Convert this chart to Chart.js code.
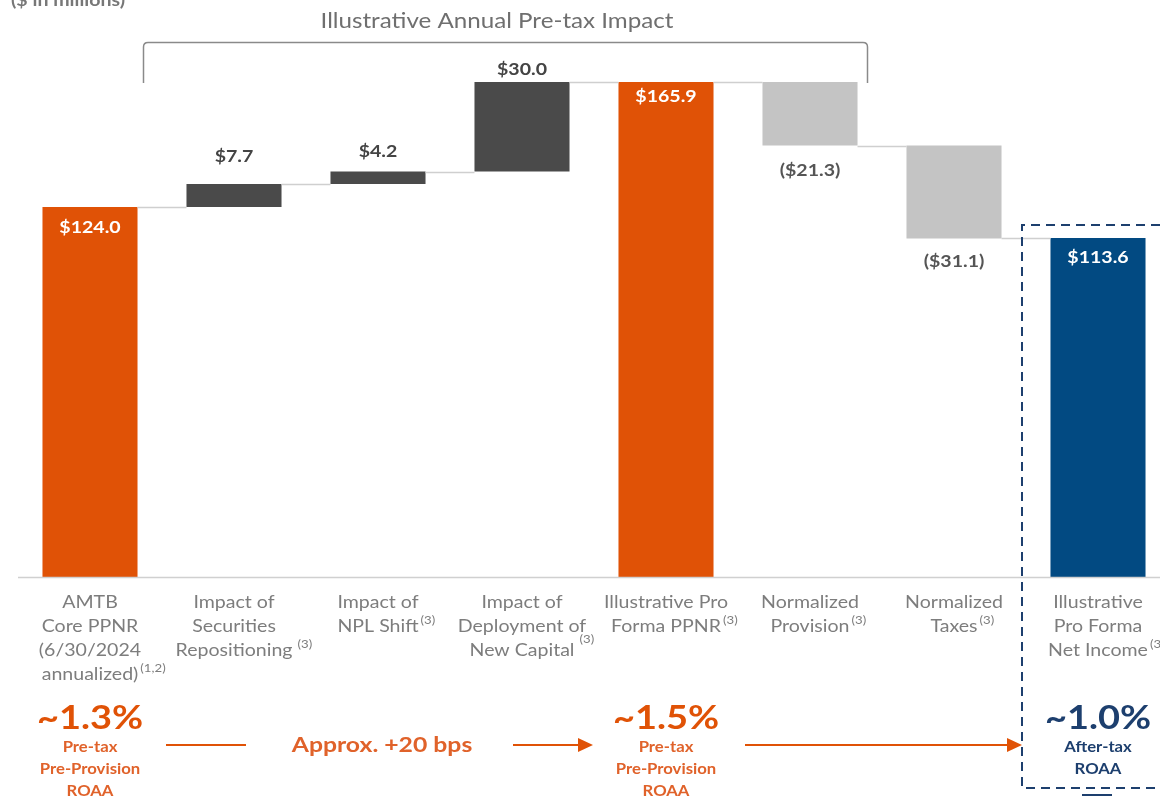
<!DOCTYPE html>
<html>
<head>
<meta charset="utf-8">
<script src="https://cdn.jsdelivr.net/npm/chart.js@4"></script>
<style>
  html, body { margin:0; padding:0; background:#fff; overflow:hidden; }
  #wrap { position:relative; width:1160px; height:796px; overflow:hidden; }
  canvas { display:block; }
</style>
</head>
<body>
<div id="wrap"><canvas id="chart" width="1180" height="796"></canvas></div>
<script>
// waterfall: pre-tax impact bridge
const categories = [
  ['AMTB','Core PPNR','(6/30/2024','annualized)'],
  ['Impact of','Securities','Repositioning'],
  ['Impact of','NPL Shift'],
  ['Impact of','Deployment of','New Capital'],
  ['Illustrative Pro','Forma PPNR'],
  ['Normalized','Provision'],
  ['Normalized','Taxes'],
  ['Illustrative','Pro Forma','Net Income']
];
const footnotes = ['(1,2)','(3)','(3)','(3)','(3)','(3)','(3)','(3)'];
const barValues = [124.0, 7.7, 4.2, 30.0, 165.9, -21.3, -31.1, 113.6];
const isTotal = [true, false, false, false, true, false, false, true];
const barLabels = ['$124.0','$7.7','$4.2','$30.0','$165.9','($21.3)','($31.1)','$113.6'];
const roaaBig = ['~1.3%','~1.5%','~1.0%'];
const roaaSmall = [['Pre-tax','Pre-Provision','ROAA'],['Pre-tax','Pre-Provision','ROAA'],['After-tax','ROAA']];
const roaaBars = [0, 4, 7];

const ORANGE = '#e05206', DARK = '#4a4a4a', LIGHT = '#c4c4c4', NAVY = '#024a82';
const TXT = '#7d7d7d';
const SX = 1.15; // text in the source is a bit wide
const labelGap = [20, 28, 20, 13, 14, 25, 23, 19]; // label distance from bar edge

// build floating ranges
let run = 0;
const ranges = barValues.map((v,i)=>{
  if(isTotal[i]){ run = v; return [0, v]; }
  const r = [run, run+v]; run += v; return r;
});
const colors = barValues.map((v,i)=> isTotal[i] ? (i===7 ? NAVY : ORANGE) : (v>0 ? DARK : LIGHT));

function txt(ctx, s, x, y, align){
  ctx.save();
  ctx.translate(x, y); ctx.scale(SX, 1);
  ctx.textAlign = align || 'center';
  ctx.fillText(s, 0, 0);
  const w = ctx.measureText(s).width * SX;
  ctx.restore();
  return w;
}
function arrow(ctx, x1, x2, y, head){
  ctx.beginPath(); ctx.moveTo(x1,y); ctx.lineTo(head ? x2-12 : x2, y); ctx.stroke();
  if(head){
    ctx.beginPath(); ctx.moveTo(x2,y); ctx.lineTo(x2-15,y-7); ctx.lineTo(x2-15,y+7); ctx.closePath(); ctx.fill();
  }
}

const decor = {
  id:'decor',
  afterDatasetsDraw(chart){
    const {ctx, scales:{y}} = chart;
    const meta = chart.getDatasetMeta(0);
    ctx.save();
    ctx.textBaseline = 'middle';
    // baseline
    const y0 = Math.round(y.getPixelForValue(0)) + 0.5;
    ctx.strokeStyle = '#d0d0d0'; ctx.lineWidth = 1.5;
    ctx.beginPath(); ctx.moveTo(18, y0); ctx.lineTo(1180, y0); ctx.stroke();
    // connectors
    ctx.strokeStyle = '#cfcfcf'; ctx.lineWidth = 1.5;
    for(let i=0;i<meta.data.length-1;i++){
      const b = meta.data[i], n = meta.data[i+1];
      const py = Math.round(y.getPixelForValue(ranges[i][1])) + 0.5;
      ctx.beginPath(); ctx.moveTo(b.x + b.width/2, py); ctx.lineTo(n.x - n.width/2, py); ctx.stroke();
    }
    // value labels
    ctx.font = 'bold 17px Lato';
    meta.data.forEach((b,i)=>{
      const top = y.getPixelForValue(Math.max(...ranges[i]));
      const bot = y.getPixelForValue(Math.min(...ranges[i]));
      if(isTotal[i]){ ctx.fillStyle = '#fff'; txt(ctx, barLabels[i], b.x, top + labelGap[i]); }
      else if(barValues[i] > 0){ ctx.fillStyle = '#444'; txt(ctx, barLabels[i], b.x, top - labelGap[i]); }
      else { ctx.fillStyle = '#555'; txt(ctx, barLabels[i], b.x, bot + labelGap[i]); }
    });
    // category labels
    ctx.fillStyle = TXT;
    categories.forEach((lines,i)=>{
      const cx = meta.data[i].x;
      lines.forEach((ln,k)=>{
        ctx.font = '17px Lato';
        const ly = 603 + k*24;
        const w = txt(ctx, ln, cx, ly, 'center');
        if(k === lines.length-1){
          ctx.font = '11.5px Lato';
          txt(ctx, footnotes[i], cx + w/2 + (i===1||i===3 ? 5 : 2), ly - (i===3 ? 12 : 7), 'left');
        }
      });
    });
    // bracket + heading
    ctx.strokeStyle = '#8a8a8a'; ctx.lineWidth = 1.5;
    ctx.beginPath();
    ctx.moveTo(143.5, 83); ctx.lineTo(143.5, 47); ctx.quadraticCurveTo(143.5, 42.5, 148, 42.5);
    ctx.lineTo(863, 42.5); ctx.quadraticCurveTo(867.5, 42.5, 867.5, 47); ctx.lineTo(867.5, 83);
    ctx.stroke();
    ctx.fillStyle = '#6f6f6f'; ctx.font = '21px Lato';
    txt(ctx, 'Illustrative Annual Pre-tax Impact', 497, 21, 'center');
    ctx.font = 'bold 17px Lato'; ctx.fillStyle = '#777';
    txt(ctx, '($ in millions)', 11, 1, 'left');
    // ROAA annotations
    roaaBars.forEach((bi,j)=>{
      const cx = meta.data[bi].x;
      ctx.fillStyle = j===2 ? '#1d3f6e' : ORANGE;
      ctx.font = 'bold 33px Lato'; txt(ctx, roaaBig[j], cx, 718, 'center');
      ctx.fillStyle = j===2 ? '#1d3f6e' : '#e0622a';
      ctx.font = 'bold 14.5px Lato';
      roaaSmall[j].forEach((s,k)=> txt(ctx, s, cx, 747 + k*22, 'center'));
    });
    ctx.fillStyle = '#e0622a'; ctx.font = 'bold 21.5px Lato';
    txt(ctx, 'Approx. +20 bps', 382, 745, 'center');
    ctx.strokeStyle = ORANGE; ctx.fillStyle = ORANGE; ctx.lineWidth = 2;
    arrow(ctx, 166, 246, 745, false);
    arrow(ctx, 513, 593, 745, true);
    arrow(ctx, 745, 1022, 745, true);
    // dashed box
    ctx.strokeStyle = '#1d3f6e'; ctx.lineWidth = 2; ctx.setLineDash([9,6]);
    ctx.beginPath();
    ctx.moveTo(1190, 225); ctx.lineTo(1022, 225); ctx.lineTo(1022, 788); ctx.lineTo(1190, 788);
    ctx.stroke();
    ctx.setLineDash([]);
    ctx.beginPath(); ctx.moveTo(1082, 795); ctx.lineTo(1112, 795); ctx.stroke();
    ctx.restore();
  }
};

new Chart(document.getElementById('chart'), {
  type:'bar',
  data:{
    labels: categories.map(c=>c.join(' ')),
    datasets:[{
      data: ranges,
      backgroundColor: colors,
      borderWidth: 0,
      barPercentage: 0.66,
      categoryPercentage: 1
    }]
  },
  options:{
    responsive:false,
    animation:false,
    devicePixelRatio:1,
    layout:{ padding:{ top:40, bottom:219, left:18, right:10 } },
    plugins:{ legend:{display:false}, tooltip:{enabled:false} },
    scales:{
      x:{ display:false },
      y:{ display:false, min:0, max:180 }
    }
  },
  plugins:[decor]
});
</script>
</body>
</html>
